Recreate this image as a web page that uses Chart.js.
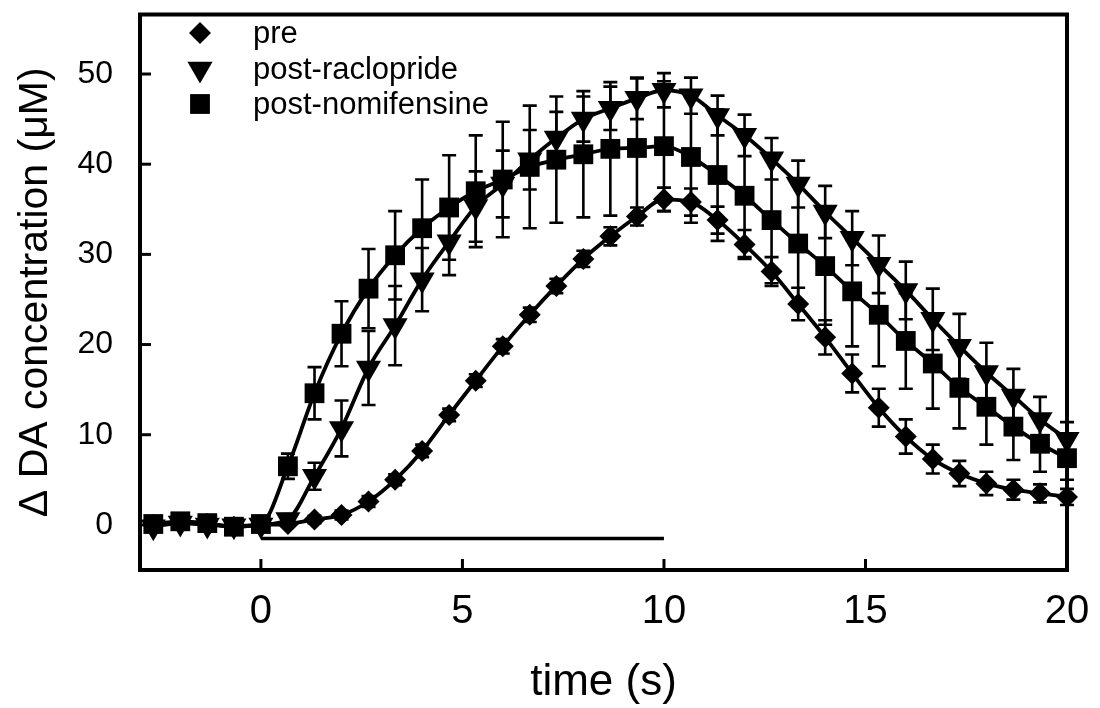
<!DOCTYPE html>
<html><head><meta charset="utf-8">
<script src="https://cdn.jsdelivr.net/npm/chart.js@4/dist/chart.umd.min.js"></script>
<style>html,body{margin:0;padding:0;background:#fff;}#wrap{width:1100px;height:708px;}</style>
</head><body><div id="wrap"><canvas id="c" width="1100" height="708"></canvas></div>
<script>
const timeS = [-2.67, -2, -1.33, -0.67, 0, 0.67, 1.33, 2, 2.67, 3.33, 4, 4.67, 5.33, 6, 6.67, 7.33, 8, 8.67, 9.33, 10, 10.67, 11.33, 12, 12.67, 13.33, 14, 14.67, 15.33, 16, 16.67, 17.33, 18, 18.67, 19.33, 20];
const preVals = [0.0, 0.2, 0.1, -0.2, 0.0, 0.1, 0.6, 1.1, 2.6, 5.0, 8.2, 12.2, 16.0, 19.8, 23.3, 26.5, 29.5, 32.0, 34.2, 36.1, 35.8, 33.8, 31.1, 28.1, 24.5, 20.8, 16.8, 13.0, 9.8, 7.3, 5.7, 4.6, 3.9, 3.5, 3.1];
const preErr = [0.4, 0.4, 0.4, 0.4, 0.4, 0.3, 0.4, 0.5, 0.6, 0.6, 0.7, 0.7, 0.7, 0.8, 0.8, 0.8, 0.9, 1.0, 1.0, 1.3, 1.5, 1.5, 1.6, 1.6, 1.8, 1.9, 2.1, 2.1, 1.9, 1.6, 1.4, 1.3, 1.1, 1.0, 0.9];
const racloVals = [-0.2, 0.2, 0.0, -0.1, 0.0, 0.6, 5.4, 10.7, 17.4, 22.1, 27.2, 31.4, 35.3, 37.8, 40.5, 42.9, 45.0, 46.2, 47.3, 48.2, 47.6, 45.4, 43.2, 40.6, 37.8, 34.7, 31.8, 28.9, 26.0, 22.8, 19.8, 16.9, 14.3, 11.7, 9.5];
const racloErr = [0.5, 0.5, 0.5, 0.5, 0.5, 0.6, 1.5, 3.1, 4.1, 4.4, 3.5, 3.7, 3.9, 3.7, 3.3, 2.9, 2.5, 2.4, 2.3, 1.9, 2.0, 2.2, 2.3, 2.3, 2.6, 2.9, 3.0, 3.2, 3.2, 3.4, 3.6, 3.3, 3.0, 2.5, 1.9];
const nomiVals = [0.1, 0.4, 0.2, -0.2, 0.1, 6.5, 14.6, 21.2, 26.2, 29.9, 32.9, 35.2, 37.0, 38.3, 39.7, 40.5, 41.1, 41.7, 41.8, 42.0, 40.8, 38.8, 36.5, 33.8, 31.2, 28.7, 25.9, 23.3, 20.4, 17.9, 15.2, 13.1, 10.9, 9.0, 7.4];
const nomiErr = [0.5, 0.5, 0.5, 0.5, 0.5, 1.4, 2.9, 3.6, 4.4, 4.9, 5.4, 5.8, 6.2, 6.4, 6.8, 7.0, 7.0, 7.4, 7.7, 7.2, 7.3, 7.3, 6.8, 7.0, 7.0, 6.5, 6.1, 5.7, 5.3, 5.0, 4.5, 4.2, 3.7, 3.1, 2.4];
const seriesNames = ['pre', 'post-raclopride', 'post-nomifensine'];
const stimStart = 0, stimEnd = 10, stimLevel = -1.5;
const xTicks = [0, 5, 10, 15, 20];
const yTicks = [0, 10, 20, 30, 40, 50];
const xTitle = 'time (s)';
const yTitle = '\u0394 DA concentration (\u03bcM)';

const FONT = "'Liberation Sans', Arial, sans-serif";
const toPts = (vals) => timeS.map((t, i) => ({x: t, y: vals[i]}));
const errs = [preErr, racloErr, nomiErr];

const markerStyles = [
  {style: 'rectRot', radius: 11, rotation: 0},
  {style: 'triangle', radius: 14.5, rotation: 180},
  {style: 'rect', radius: 14, rotation: 0}
];

function drawMarker(ctx, kind, x, y, r) {
  ctx.beginPath();
  if (kind === 'rectRot') {
    ctx.moveTo(x - r, y); ctx.lineTo(x, y - r); ctx.lineTo(x + r, y); ctx.lineTo(x, y + r);
  } else if (kind === 'triangle') {
    const h = r * Math.sqrt(3) / 2;
    ctx.moveTo(x - h, y - r / 2); ctx.lineTo(x + h, y - r / 2); ctx.lineTo(x, y + r);
  } else {
    const s = r * Math.SQRT1_2;
    ctx.rect(x - s, y - s, 2 * s, 2 * s);
  }
  ctx.closePath();
  ctx.fill();
}

const errorBars = {
  id: 'errorBars',
  beforeDatasetsDraw(chart) {
    const {ctx, scales: {x, y}} = chart;
    ctx.save();
    ctx.strokeStyle = '#000';
    ctx.lineWidth = 2.6;
    [preVals, racloVals, nomiVals].forEach((vals, k) => {
      vals.forEach((v, i) => {
        const px = x.getPixelForValue(timeS[i]);
        const top = y.getPixelForValue(v + errs[k][i]);
        const bot = y.getPixelForValue(v - errs[k][i]);
        ctx.beginPath();
        ctx.moveTo(px, top); ctx.lineTo(px, bot);
        ctx.moveTo(px - 7, top); ctx.lineTo(px + 7, top);
        ctx.moveTo(px - 7, bot); ctx.lineTo(px + 7, bot);
        ctx.stroke();
      });
    });
    ctx.restore();
  }
};

const frame = {
  id: 'frame',
  afterDraw(chart) {
    const {ctx, chartArea: a, scales: {x, y}} = chart;
    ctx.save();
    ctx.strokeStyle = '#000';
    ctx.lineWidth = 4;
    ctx.strokeRect(a.left, a.top, a.right - a.left, a.bottom - a.top);
    ctx.lineWidth = 3;
    yTicks.forEach(v => {
      const p = y.getPixelForValue(v);
      ctx.beginPath(); ctx.moveTo(a.left, p); ctx.lineTo(a.left + 11, p); ctx.stroke();
    });
    xTicks.forEach(v => {
      const p = x.getPixelForValue(v);
      ctx.beginPath(); ctx.moveTo(p, a.bottom); ctx.lineTo(p, a.bottom - 11); ctx.stroke();
    });
    const rows = [33, 69, 104];
    ctx.fillStyle = '#000';
    ctx.font = '31px ' + FONT;
    ctx.textBaseline = 'middle';
    ctx.textAlign = 'left';
    seriesNames.forEach((name, i) => {
      const m = markerStyles[i];
      drawMarker(ctx, m.style, 200, rows[i], m.radius);
      ctx.fillText(name, 253, rows[i] + 1);
    });
    ctx.restore();
  }
};

const lineDs = (label, vals, k) => ({
  label, data: toPts(vals),
  borderColor: '#000', backgroundColor: '#000', borderWidth: 3.8,
  pointStyle: markerStyles[k].style, pointRadius: markerStyles[k].radius,
  pointRotation: markerStyles[k].rotation,
  pointBackgroundColor: '#000', pointBorderColor: '#000', pointBorderWidth: 0,
  cubicInterpolationMode: 'monotone', fill: false, clip: false
});

new Chart(document.getElementById('c'), {
  type: 'line',
  data: {
    datasets: [
      lineDs(seriesNames[0], preVals, 0),
      lineDs(seriesNames[1], racloVals, 1),
      lineDs(seriesNames[2], nomiVals, 2),
      {label: 'stim', data: [{x: stimStart, y: stimLevel}, {x: stimEnd, y: stimLevel}],
       borderColor: '#000', borderWidth: 3.5, pointRadius: 0, fill: false, clip: false}
    ]
  },
  options: {
    responsive: false, animation: false, devicePixelRatio: 1,
    layout: {padding: {left: 0, right: 33, top: 12, bottom: 0}},
    plugins: {legend: {display: false}, tooltip: {enabled: false}},
    scales: {
      x: {
        type: 'linear', min: -3, max: 20,
        afterBuildTicks: s => { s.ticks = xTicks.map(v => ({value: v})); },
        afterFit: s => { s.height = 138; s.paddingLeft = 0; s.paddingRight = 0; },
        grid: {display: false, drawTicks: false}, border: {display: false},
        ticks: {color: '#000', font: {family: FONT, size: 40}, padding: 18, maxRotation: 0},
        title: {display: true, text: xTitle, color: '#000', font: {family: FONT, size: 44}, padding: {top: 0, bottom: -1}}
      },
      y: {
        type: 'linear', min: -5, max: 56.6,
        afterBuildTicks: s => { s.ticks = yTicks.map(v => ({value: v})); },
        afterFit: s => { s.width = 140; s.paddingTop = 0; s.paddingBottom = 0; },
        grid: {display: false, drawTicks: false}, border: {display: false},
        ticks: {color: '#000', font: {family: FONT, size: 32}, padding: 27},
        title: {display: true, text: yTitle, color: '#000', font: {family: FONT, size: 41}, padding: {top: 11.5, bottom: 0}}
      }
    }
  },
  plugins: [errorBars, frame]
});
</script></body></html>
